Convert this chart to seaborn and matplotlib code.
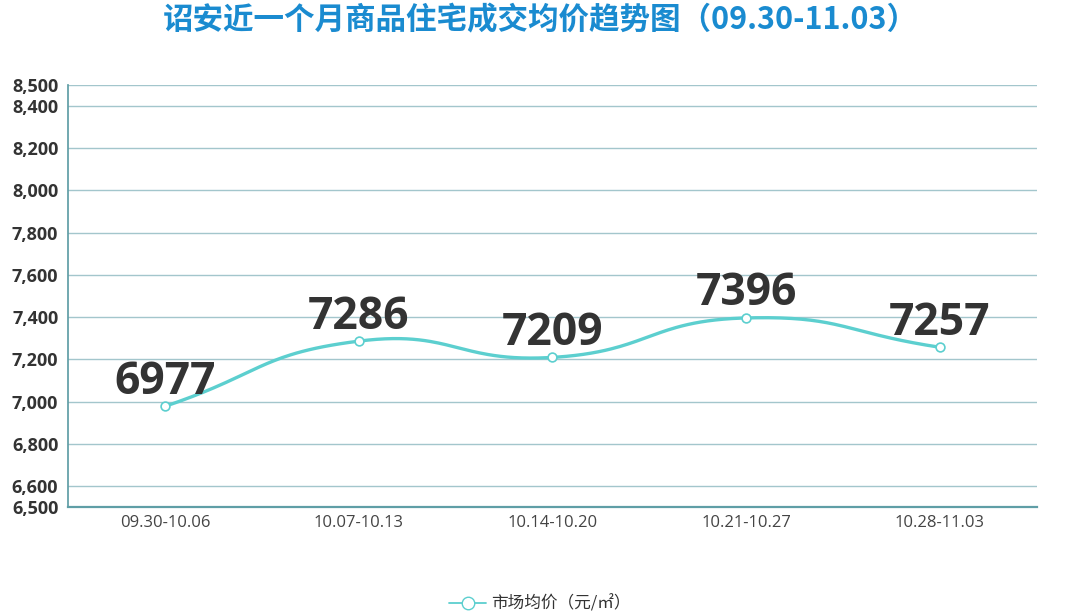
import numpy as np
import pandas as pd
import matplotlib
matplotlib.use("Agg")
import matplotlib.pyplot as plt
from matplotlib.lines import Line2D
import seaborn as sns

# data
weeks = ["09.30-10.06", "10.07-10.13", "10.14-10.20", "10.21-10.27", "10.28-11.03"]
avg_price = [6977, 7286, 7209, 7396, 7257]
y_ticks = [6500, 6600, 6800, 7000, 7200, 7400, 7600, 7800, 8000, 8200, 8400, 8500]

title = "诏安近一个月商品住宅成交均价趋势图（09.30-11.03）"
legend_label = "市场均价（元/㎡）"

line_color = "#5ccfcf"
grid_color = "#a3c6cc"
axis_color = "#5f9ea6"
title_color = "#1a8bd0"

sns.set_theme(style="white")
plt.rcParams["font.family"] = ["Open Sans", "Noto Sans CJK SC", "DejaVu Sans"]

df = pd.DataFrame({"week": weeks, "price": avg_price})
df["x"] = np.arange(len(df))

fig = plt.figure(figsize=(10.8, 6.15), dpi=100)
ax = fig.add_axes([0.063, 0.1756, 0.897, 0.6862])
ax.set_xlim(-0.5, len(weeks) - 0.5)
ax.set_ylim(6500, 8500)


def smooth_curve(ax, xs, ys, smooth=0.5, n=60):
    # echarts-style bezier smoothing, done in pixel space
    pts = ax.transData.transform(np.column_stack([xs, ys]))
    m = len(pts)
    cp0 = np.zeros_like(pts)
    cp1 = np.zeros_like(pts)
    for i in range(m):
        prev = pts[i - 1] if i > 0 else pts[i]
        nxt = pts[i + 1] if i < m - 1 else pts[i]
        v = (nxt - prev) * smooth
        d0 = np.hypot(*(pts[i] - prev))
        d1 = np.hypot(*(pts[i] - nxt))
        s = d0 + d1
        if s > 0:
            d0, d1 = d0 / s, d1 / s
        cp0[i] = pts[i] - v * d0
        cp1[i] = pts[i] + v * d1
    t = np.linspace(0, 1, n)[:, None]
    out = []
    for i in range(m - 1):
        p0, c1, c2, p1 = pts[i], cp1[i], cp0[i + 1], pts[i + 1]
        seg = ((1 - t) ** 3) * p0 + 3 * ((1 - t) ** 2) * t * c1 + 3 * (1 - t) * t ** 2 * c2 + t ** 3 * p1
        out.append(seg if i == 0 else seg[1:])
    out = np.vstack(out)
    return ax.transData.inverted().transform(out)


curve = smooth_curve(ax, df["x"].values, df["price"].values)
curve_df = pd.DataFrame({"x": curve[:, 0], "y": curve[:, 1]})
sns.lineplot(data=curve_df, x="x", y="y", ax=ax, color=line_color, lw=2.4,
             sort=False, estimator=None, zorder=3)
sns.scatterplot(data=df, x="x", y="price", ax=ax, s=40, marker="o",
                facecolor="white", edgecolor=line_color, linewidth=1.2, zorder=4)

for xi, v in zip(df["x"], df["price"]):
    ax.annotate(f"{v}", (xi, v), xytext=(0, 9), textcoords="offset points",
                ha="center", va="baseline", fontsize=32, fontweight="bold",
                color="#333333", zorder=5)

# axes styling
ax.set_yticks(y_ticks)
ax.set_yticklabels([f"{t:,}" for t in y_ticks], fontsize=13, fontweight="bold", color="#333333")
ax.set_xticks(df["x"])
ax.set_xticklabels(weeks, fontsize=12, color="#444444")
ax.set_xticks(np.arange(0.5, len(weeks) - 0.5), minor=True)
ax.tick_params(axis="x", which="major", length=0, pad=6)
ax.tick_params(axis="x", which="minor", length=4, color=axis_color, width=1)
ax.tick_params(axis="y", length=5, color=axis_color, width=1, pad=2)
ax.grid(axis="y", color=grid_color, lw=1)
ax.set_axisbelow(True)
for side in ["top", "right"]:
    ax.spines[side].set_visible(False)
ax.spines["left"].set_color(axis_color)
ax.spines["bottom"].set_color(axis_color)
ax.spines["bottom"].set_linewidth(1.6)
ax.set_xlabel("")
ax.set_ylabel("")

fig.text(0.5, 0.967, title, ha="center", va="center", fontsize=22, fontweight="bold",
         color=title_color, family=["Noto Sans CJK SC", "DejaVu Sans"])

handle = Line2D([], [], color=line_color, lw=1.3, marker="o", markersize=9,
                markerfacecolor="white", markeredgecolor=line_color)
leg = fig.legend([handle], [legend_label], loc="center", bbox_to_anchor=(0.5, 0.018),
                 frameon=False, fontsize=12, handlelength=2.2, handletextpad=0.3)
for txt in leg.get_texts():
    txt.set_color("#333333")
    txt.set_family(["Noto Sans CJK SC", "DejaVu Sans"])

fig.savefig("out.png", dpi=100)
